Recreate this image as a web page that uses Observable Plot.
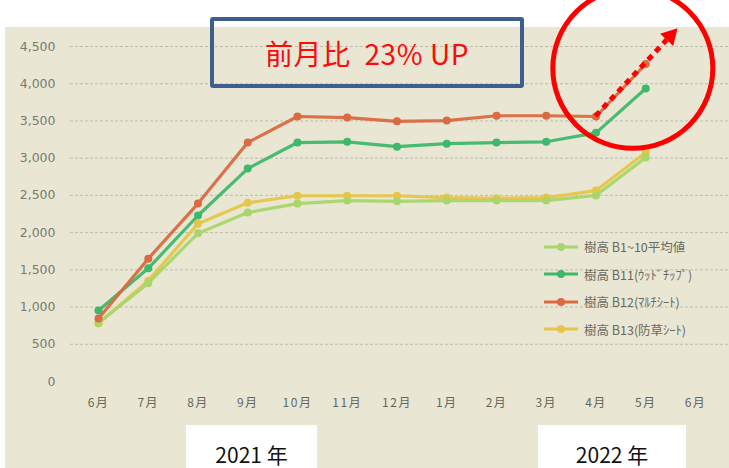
<!DOCTYPE html>
<html>
<head>
<meta charset="utf-8">
<script src="https://cdn.jsdelivr.net/npm/d3@7"></script>
<script src="https://cdn.jsdelivr.net/npm/@observablehq/plot@0.6"></script>
<style>
  html, body { margin: 0; padding: 0; background: #ffffff; }
  #wrap { position: relative; width: 729px; height: 468px; overflow: hidden; background: #ffffff; }
  #bg { position: absolute; left: 5px; top: 27px; right: 0; bottom: 0; background: #e9e7d3; }
  #chart { position: absolute; left: 0; top: 0; }
  #chart svg { overflow: visible; }
  g[aria-label="y-axis tick label"] { font-family: "DejaVu Sans", sans-serif; font-size: 12.5px; fill: #7a7a72; }
  g[aria-label="x-axis tick label"] { font-family: "Noto Sans CJK JP", sans-serif; font-size: 12px; fill: #66665e; letter-spacing: 1.5px; }
  #titlebox { position: absolute; left: 210px; top: 17px; width: 314px; height: 71px; box-sizing: border-box;
    border: 4px solid #3e5e8e; border-radius: 3px; display: flex; align-items: center; justify-content: center;
    font-family: "Noto Sans CJK JP", sans-serif; font-size: 28px; letter-spacing: 0.6px; color: #ff0a0a; white-space: pre; padding-top: 1px; }
  .year { position: absolute; top: 425px; height: 60px; background: #ffffff; font-family: "Noto Sans CJK JP", sans-serif;
    font-size: 21px; color: #111; text-align: center; line-height: 1; padding-top: 19px; box-sizing: border-box; }
  #legend { position: absolute; left: 543px; top: 233px; font-family: "Noto Sans CJK JP", sans-serif; font-size: 12.5px; color: #6a6a62; }
  #legend .row { display: flex; align-items: center; height: 27.5px; }
  #legend svg { margin-right: 5px; }
</style>
</head>
<body>
<div id="wrap">
  <div id="bg"></div>
  <div id="chart"></div>
  <div id="titlebox">前月比  23% UP</div>
  <div class="year" style="left:186px;width:131px;">2021 年</div>
  <div class="year" style="left:538px;width:148px;">2022 年</div>
  <div id="legend"></div>
</div>
<script>
// Month tick labels (x positions 0..12)
const months = ["6月","7月","8月","9月","10月","11月","12月","1月","2月","3月","4月","5月","6月"];
// Series names
const seriesNames = ["樹高 B1~10平均値", "樹高 B11(ｳｯﾄﾞﾁｯﾌﾟ)", "樹高 B12(ﾏﾙﾁｼｰﾄ)", "樹高 B13(防草ｼｰﾄ)"];
const seriesColors = ["#a8d66c", "#3eb86b", "#d96a41", "#e6c64a"];
// Values (6月 2021 .. 5月 2022)
const avgB1to10 = [790, 1320, 1990, 2270, 2390, 2430, 2420, 2430, 2430, 2430, 2500, 3010];
const b11 = [955, 1520, 2230, 2860, 3210, 3220, 3155, 3195, 3210, 3220, 3340, 3935];
const b12 = [845, 1650, 2390, 3210, 3560, 3545, 3495, 3505, 3570, 3570, 3560, 4265];
const b13 = [780, 1355, 2120, 2400, 2495, 2495, 2495, 2470, 2460, 2470, 2565, 3075];
const yTicks = [0, 500, 1000, 1500, 2000, 2500, 3000, 3500, 4000, 4500];

const seriesValues = [avgB1to10, b11, b12, b13];
const data = [];
seriesValues.forEach((vals, s) => vals.forEach((v, i) => data.push({ series: seriesNames[s], i, v })));
// draw order: yellow, light green, green, red on top
const order = [3, 0, 1, 2];

const marks = [
  Plot.ruleY(yTicks.filter(d => d > 0), { stroke: "#8a8a80", strokeOpacity: 0.45, strokeDasharray: "3,2", insetLeft: -28, insetRight: -34 }),
  Plot.axisX({ ticks: d3.range(months.length), tickFormat: i => months[i], tickSize: 0, tickPadding: 17, label: null }),
  Plot.axisY({ ticks: yTicks, tickFormat: d3.format(","), tickSize: 0, tickPadding: 43, label: null })
];
order.forEach(s => {
  const sd = data.filter(d => d.series === seriesNames[s]);
  marks.push(Plot.line(sd, { x: "i", y: "v", stroke: seriesColors[s], strokeWidth: 3.2, strokeOpacity: 0.95 }));
  marks.push(Plot.dot(sd, { x: "i", y: "v", fill: seriesColors[s], r: 4 }));
});

const plot = Plot.plot({
  width: 729, height: 468,
  marginLeft: 98, marginRight: 34, marginTop: 46, marginBottom: 87,
  style: { background: "transparent", overflow: "visible" },
  x: { domain: [0, 12], axis: null, label: null },
  y: { domain: [0, 4500], axis: null, label: null },
  marks
});
document.getElementById("chart").appendChild(plot);

// Annotation: red circle and dotted arrow from B12's 4月 value
const xs = plot.scale("x"), ys = plot.scale("y");
const svg = d3.select(plot);
const cx = xs.apply(10.75), cy = ys.apply(4200);
svg.append("circle").attr("cx", cx).attr("cy", cy).attr("r", 80)
  .attr("fill", "none").attr("stroke", "#ff0000").attr("stroke-width", 5);
const x0 = xs.apply(10), y0 = ys.apply(b12[10]);
const x1 = xs.apply(11.65), y1 = ys.apply(4740);
const ang = Math.atan2(y1 - y0, x1 - x0);
const headLen = 16, headW = 9;
const bx = x1 - headLen * Math.cos(ang), by = y1 - headLen * Math.sin(ang);
svg.append("line").attr("x1", x0).attr("y1", y0).attr("x2", bx).attr("y2", by)
  .attr("stroke", "#ff0000").attr("stroke-width", 5).attr("stroke-dasharray", "6,5");
const px = -Math.sin(ang), py = Math.cos(ang);
svg.append("polygon")
  .attr("points", [[x1, y1], [bx + px * headW, by + py * headW], [bx - px * headW, by - py * headW]].map(p => p.join(",")).join(" "))
  .attr("fill", "#ff0000");

// Legend
const legend = d3.select("#legend");
seriesNames.forEach((name, s) => {
  const row = legend.append("div").attr("class", "row");
  const sw = row.append("svg").attr("width", 36).attr("height", 12);
  sw.append("line").attr("x1", 1).attr("x2", 35).attr("y1", 6).attr("y2", 6).attr("stroke", seriesColors[s]).attr("stroke-width", 3);
  sw.append("circle").attr("cx", 18).attr("cy", 6).attr("r", 4).attr("fill", seriesColors[s]);
  row.append("span").text(name);
});
</script>
</body>
</html>
